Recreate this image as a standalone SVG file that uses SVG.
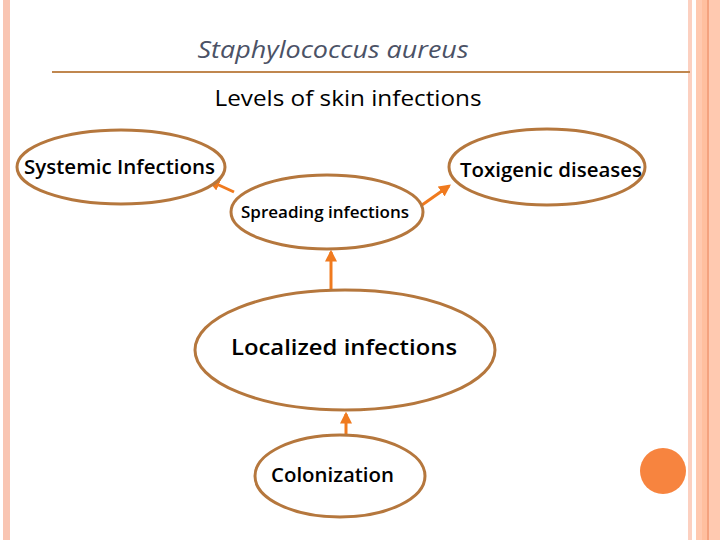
<svg xmlns="http://www.w3.org/2000/svg" width="720" height="540" viewBox="0 0 720 540">
<style>
.n{fill:#fff;stroke:#b5773d;stroke-width:3}
.t{font-family:"Open Sans","Liberation Sans",sans-serif;fill:#000;text-anchor:middle;lengthAdjust:spacingAndGlyphs}
.b{font-weight:600}
.c{stroke:#f07a1e;stroke-width:3;fill:none;marker-end:url(#a)}
</style>
<defs><marker id="a" viewBox="0 0 10 10" refX="8" refY="5" markerWidth="4" markerHeight="4" orient="auto"><path d="M0,0L10,5L0,10z" fill="#f07a1e"/></marker></defs>
<rect width="720" height="540" fill="#fff"/>
<rect x="3" y="0" width="7" height="540" fill="#f9c5b2"/>
<rect x="688" y="0" width="4" height="540" fill="#fcd0c0"/>
<rect x="696" y="0" width="24" height="540" fill="#ffc9b0"/>
<rect x="702" y="0" width="6" height="540" fill="#ffbf9f"/>
<rect x="707" y="0" width="2" height="540" fill="#f4a27f"/>
<line x1="52" y1="72" x2="690" y2="72" stroke="#c0874f" stroke-width="2"/>
<text x="333" y="58" class="t" style="font-style:italic;fill:#4b5266" font-size="23" textLength="271" lengthAdjust="spacingAndGlyphs">Staphylococcus aureus</text>
<text x="348" y="106" class="t" font-size="22" textLength="267" lengthAdjust="spacingAndGlyphs">Levels of skin infections</text>
<g id="connectors">
<line class="c" x1="234" y1="192" x2="210" y2="181"/>
<line class="c" x1="422" y1="205" x2="449" y2="186"/>
<line class="c" x1="331" y1="295" x2="331" y2="252"/>
<line class="c" x1="346" y1="436" x2="346" y2="414"/>
</g>
<g id="systemic"><ellipse class="n" cx="121" cy="167" rx="104" ry="37"/><text class="t b" x="119.5" y="174" font-size="19" textLength="191" lengthAdjust="spacingAndGlyphs">Systemic Infections</text></g>
<g id="toxigenic"><ellipse class="n" cx="547" cy="167" rx="98" ry="38"/><text class="t b" x="551" y="177" font-size="19" textLength="182" lengthAdjust="spacingAndGlyphs">Toxigenic diseases</text></g>
<g id="spreading"><ellipse class="n" cx="327" cy="212" rx="96" ry="37"/><text class="t b" x="325" y="218" font-size="16" textLength="168" lengthAdjust="spacingAndGlyphs">Spreading infections</text></g>
<g id="localized"><ellipse class="n" cx="345" cy="350" rx="150" ry="60"/><text class="t b" x="344" y="355" font-size="22" textLength="226" lengthAdjust="spacingAndGlyphs">Localized infections</text></g>
<g id="colonization"><ellipse class="n" cx="340" cy="476" rx="85" ry="41"/><text class="t b" x="332.5" y="482" font-size="20" textLength="123" lengthAdjust="spacingAndGlyphs">Colonization</text></g>
<circle cx="663" cy="471" r="23" fill="#f7843f"/>
</svg>
